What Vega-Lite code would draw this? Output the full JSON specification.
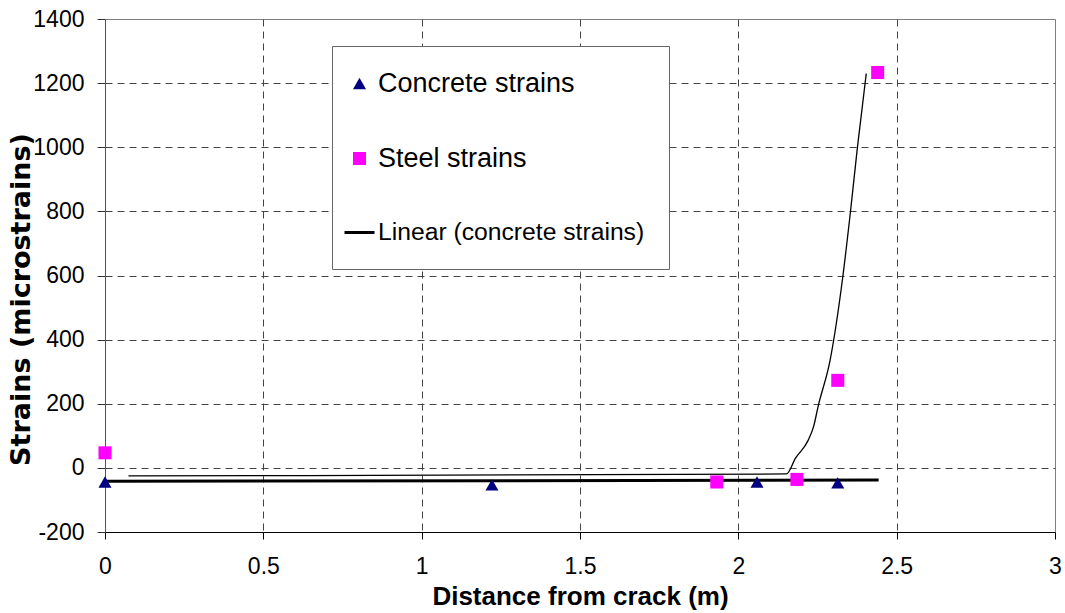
{
  "$schema": "https://vega.github.io/schema/vega-lite/v6.json",
  "width": 950,
  "height": 513,
  "autosize": {"type": "none"},
  "padding": {"left": 105, "top": 19, "right": 10, "bottom": 81},
  "background": "white",
  "config": {
    "view": {"stroke": "#808080", "strokeWidth": 1},
    "font": "Liberation Sans"
  },
  "datasets": {
    "curve": [
      {"x": 0.074, "y": -25},
      {"x": 2.152, "y": -19},
      {"x": 2.181, "y": 31},
      {"x": 2.22, "y": 85},
      {"x": 2.238, "y": 130},
      {"x": 2.252, "y": 192},
      {"x": 2.29, "y": 337},
      {"x": 2.33, "y": 597},
      {"x": 2.354, "y": 798},
      {"x": 2.376, "y": 999},
      {"x": 2.404, "y": 1230}
    ],
    "trend": [
      {"x": 0, "y": -42, "series": "Linear (concrete strains)"},
      {"x": 2.443, "y": -38, "series": "Linear (concrete strains)"}
    ],
    "points": [
      {"x": 0, "y": -44, "series": "Concrete strains"},
      {"x": 1.222, "y": -53, "series": "Concrete strains"},
      {"x": 2.059, "y": -44, "series": "Concrete strains"},
      {"x": 2.314, "y": -47, "series": "Concrete strains"},
      {"x": 0, "y": 47, "series": "Steel strains"},
      {"x": 1.932, "y": -44, "series": "Steel strains"},
      {"x": 2.185, "y": -36, "series": "Steel strains"},
      {"x": 2.314, "y": 273, "series": "Steel strains"},
      {"x": 2.44, "y": 1233, "series": "Steel strains"}
    ]
  },
  "layer": [
    {
      "data": {"name": "curve"},
      "mark": {"type": "line", "color": "black", "strokeWidth": 1.3, "interpolate": "monotone"},
      "encoding": {
        "x": {
          "field": "x", "type": "quantitative",
          "scale": {"domain": [0, 3], "nice": false, "zero": false},
          "axis": {
            "values": [0, 0.5, 1, 1.5, 2, 2.5, 3],
            "title": "Distance from crack (m)",
            "labelExpr": "'' + datum.value",
            "labelFontSize": 23, "labelColor": "black", "labelPadding": 16,
            "labelFlush": false, "labelOverlap": false,
            "tickSize": 7, "tickColor": "black", "domainColor": "black",
            "titleFontSize": 26, "titleFontWeight": "bold", "titleColor": "black", "titlePadding": 5,
            "grid": true, "gridDash": [7, 5], "gridColor": "#444",
            "gridOpacity": {"condition": {"test": "datum.value == 0 || datum.value == 3", "value": 0}, "value": 1}
          }
        },
        "y": {
          "field": "y", "type": "quantitative",
          "scale": {"domain": [-200, 1400], "nice": false, "zero": false},
          "axis": {
            "values": [-200, 0, 200, 400, 600, 800, 1000, 1200, 1400],
            "title": "Strains (microstrains)",
            "labelExpr": "'' + datum.value",
            "labelFontSize": 23, "labelColor": "black", "labelPadding": 13,
            "labelFlush": false, "labelOverlap": false,
            "tickSize": 8, "tickColor": "#333", "domainColor": "#555",
            "titleFont": "DejaVu Sans", "titleFontSize": 27, "titleFontWeight": "bold", "titleColor": "black",
            "titleX": -70, "titleY": 280,
            "grid": true, "gridDash": [7, 5], "gridColor": "#444",
            "gridOpacity": {"condition": {"test": "datum.value == -200 || datum.value == 1400", "value": 0}, "value": 1}
          }
        }
      }
    },
    {
      "data": {"name": "trend"},
      "mark": {"type": "line", "strokeWidth": 3},
      "encoding": {
        "x": {"field": "x", "type": "quantitative"},
        "y": {"field": "y", "type": "quantitative"},
        "color": {
          "field": "series", "type": "nominal",
          "scale": {
            "domain": ["Concrete strains", "Steel strains", "Linear (concrete strains)"],
            "range": ["#000080", "#FF00FF", "#000000"]
          },
          "legend": {
            "orient": "none", "legendX": 227, "legendY": 27,
            "title": null, "padding": 24, "rowPadding": 47,
            "symbolSize": 100, "symbolOffset": -10,
            "labelFontSize": 27, "labelColor": "black", "labelOffset": 5, "labelLimit": 400,
            "fillColor": "white", "strokeColor": "#666",
            "encode": {
              "symbols": {"update": {
                "size": {"signal": "datum.value == 'Linear (concrete strains)' ? 900 : 170"},
                "shape": {"signal": "datum.value == 'Concrete strains' ? 'triangle-up' : datum.value == 'Steel strains' ? 'square' : 'stroke'"},
                "fill": {"signal": "datum.value == 'Concrete strains' ? '#000080' : datum.value == 'Steel strains' ? '#FF00FF' : 'transparent'"},
                "stroke": {"value": "black"},
                "strokeWidth": {"signal": "datum.value == 'Linear (concrete strains)' ? 3 : 0"},
                "opacity": {"value": 1}
              }},
              "labels": {"update": {
                "fontSize": {"signal": "datum.value == 'Linear (concrete strains)' ? 24.7 : 27"}
              }}
            }
          }
        }
      }
    },
    {
      "data": {"name": "points"},
      "mark": {"type": "point", "filled": true, "opacity": 1, "size": 170},
      "encoding": {
        "x": {"field": "x", "type": "quantitative"},
        "y": {"field": "y", "type": "quantitative"},
        "color": {"field": "series", "type": "nominal"},
        "shape": {
          "field": "series", "type": "nominal",
          "scale": {
            "domain": ["Concrete strains", "Steel strains", "Linear (concrete strains)"],
            "range": ["triangle-up", "square", "stroke"]
          },
          "legend": null
        }
      }
    }
  ]
}
